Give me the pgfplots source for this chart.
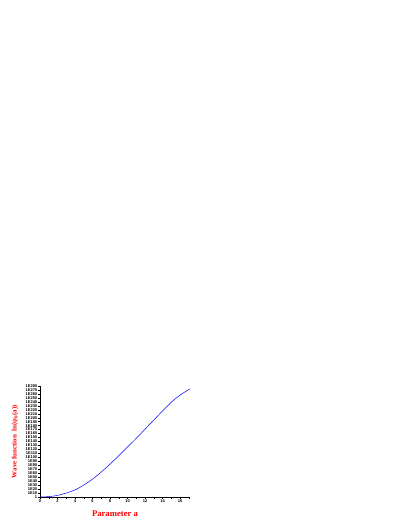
\documentclass[border=0pt]{standalone}
\usepackage{fontspec}
\setmainfont{Liberation Serif}
\newfontfamily\ticksf{Liberation Sans}
\usepackage{pgfplots}
\pgfplotsset{compat=1.18}
\begin{document}
\begin{tikzpicture}
\path[use as bounding box] (0,0) rectangle (409bp,529bp);
\begin{axis}[
  at={(40bp,32bp)}, anchor=south west,
  scale only axis,
  width=150bp, height=111bp,
  ymode=log,
  xmin=0, xmax=17.14,
  ymin=1, ymax=1e280,
  axis lines*=left,
  axis line style={line width=0.5bp},
  tick align=outside,
  major tick length=2bp,
  minor tick length=1.5bp,
  tick style={line width=0.4bp, black},
  xtick={0,2,4,6,8,10,12,14,16},
  xticklabels={0,2,4,6,8,10,12,14,16},
  minor xtick={1,3,5,7,9,11,13,15,17},
  ytick={1,1e10,1e20,1e30,1e40,1e50,1e60,1e70,1e80,1e90,1e100,1e110,1e120,1e130,1e140,1e150,1e160,1e170,1e180,1e190,1e200,1e210,1e220,1e230,1e240,1e250,1e260,1e270,1e280},
  yticklabels={1,1E10,1E20,1E30,1E40,1E50,1E60,1E70,1E80,1E90,1E100,1E110,1E120,1E130,1E140,1E150,1E160,1E170,1E180,1E190,1E200,1E210,1E220,1E230,1E240,1E250,1E260,1E270,1E280},
  yminorticks=false,
  ticklabel style={font=\ticksf\bfseries\fontsize{4}{4}\selectfont, inner sep=0.6bp},
  xlabel={Parameter a},
  ylabel={Wave function\ \ ln(ψ\textsubscript{0}(a))},
  xlabel style={font=\bfseries\fontsize{8.7}{9}\selectfont, text=red, at={(axis description cs:0.5,-0.153)}, anchor=center},
  ylabel style={font=\bfseries\fontsize{7}{8}\selectfont, text=red, at={(axis description cs:-0.167,0.5)}, anchor=center},
]
\addplot[blue, line width=0.5bp, smooth] coordinates {
  (0,1) (1,1e1) (2,1e4) (3,1e10) (4,1e18) (5,1e30) (6,1e45) (7,1e63)
  (8,1e83) (9,1e104) (10,1e126) (11,1e148) (12,1e171) (13,1e194)
  (14,1e217) (15,1e239) (16,1e257) (17,1e271) (17.1,1e272)
};
\end{axis}
\end{tikzpicture}
\end{document}
